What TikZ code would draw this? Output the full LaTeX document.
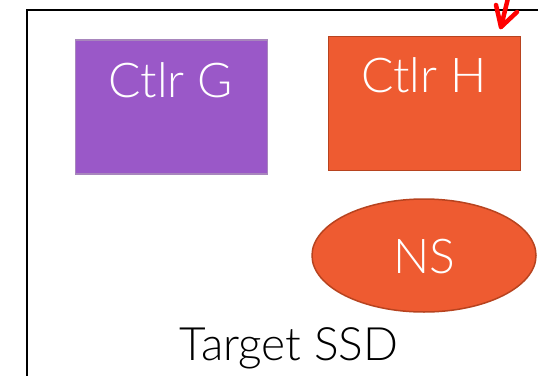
\documentclass[tikz,border=0pt]{standalone}
\usepackage{fontspec}
\setmainfont{Lato}[UprightFont=* Light]
\usetikzlibrary{shapes.geometric,arrows.meta}
\definecolor{ctlpurple}{HTML}{9A58C8}
\definecolor{ctlpurpleedge}{HTML}{A886BD}
\definecolor{ctlorange}{HTML}{EE5B31}
\definecolor{ctlorangeedge}{HTML}{B7431F}
\definecolor{arrred}{HTML}{FF0000}
\begin{document}
\begin{tikzpicture}[x=1pt,y=-1pt,
  bigtext/.style={font=\fontsize{48}{56}\selectfont},
  ctlbox/.style={draw, line width=1.5pt, minimum width=192pt, minimum height=134pt, inner sep=0pt, text=white, bigtext},
  nsshape/.style={ellipse, draw=ctlorangeedge, fill=ctlorange, line width=1.5pt, minimum width=224pt, minimum height=113pt, inner sep=0pt, text=white, bigtext},
  frame/.style={draw=black, line width=2pt},
  pointer/.style={draw=arrred, line width=4.5pt, line cap=round, line join=round}]
\useasboundingbox (0,0) rectangle (538,375);
\begin{scope}
\clip (0,0) rectangle (538,375);
\draw[frame] (27,390) -- (27,10) -- (560,10);
\node[ctlbox, draw=ctlpurpleedge, fill=ctlpurple] (G) at (171.5,107) {};
\node[ctlbox, draw=ctlorangeedge, fill=ctlorange] (H) at (424.5,103.5) {};
\node[text=white, bigtext, anchor=base] (Gt) at (171,97) {Ctlr G};
\node[text=white, bigtext, anchor=base] (Ht) at (424,92) {Ctlr H};
\node[nsshape] (NS) at (424,255.5) {};
\node[text=white, bigtext, anchor=base] (NSt) at (424,273) {NS};
\node[text=black, font=\fontsize{46}{54}\selectfont, anchor=base] (T) at (289,360) {Target SSD};
\coordinate (astart) at (509,-6);
\coordinate (atip) at (501,27);
\coordinate (abarbL) at (496,5);
\coordinate (abarbR) at (517,12);
\draw[pointer] (astart) -- (atip);
\draw[pointer] (abarbL) -- (atip) -- (abarbR);
\end{scope}
\end{tikzpicture}
\end{document}
